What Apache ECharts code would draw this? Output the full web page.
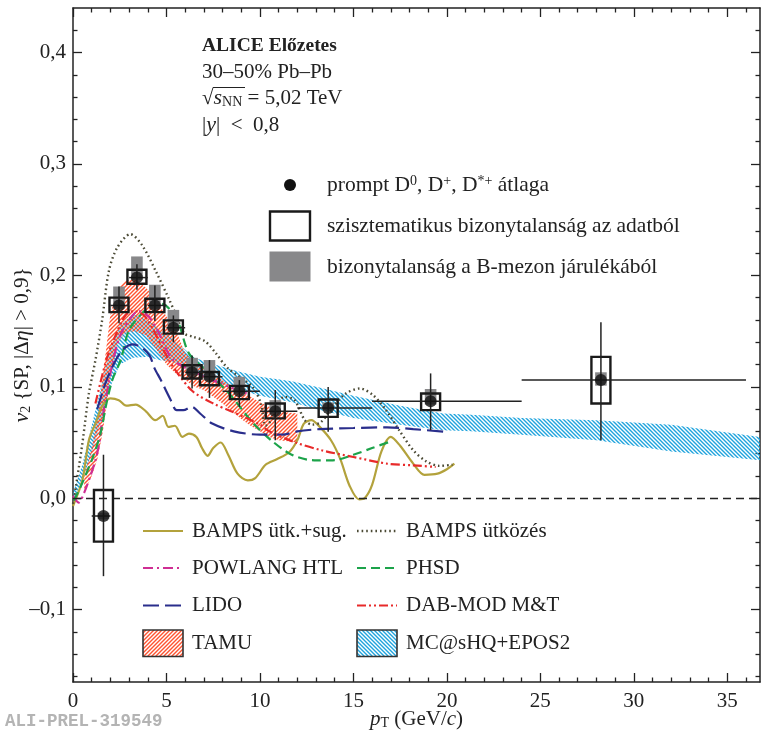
<!DOCTYPE html>
<html><head><meta charset="utf-8">
<script src="https://cdn.jsdelivr.net/npm/echarts@6/dist/echarts.min.js"></script>
<style>html,body{margin:0;padding:0;background:#fff}#c{width:761px;height:739px}</style>
</head><body><div id="c"></div>
<script>
// ---------------- data ----------------
const ptX    = [1.63, 2.46, 3.42, 4.38, 5.37, 6.37, 7.3, 8.9, 10.82, 13.65, 19.13, 28.24];
const ptY    = [-0.016, 0.173, 0.198, 0.173, 0.153, 0.113, 0.109, 0.096, 0.078, 0.081, 0.087, 0.106];
const statLo = [-0.070, 0.157, 0.187, 0.159, 0.140, 0.0985, 0.090, 0.082, 0.052, 0.0596, 0.0611, 0.052];
const statHi = [0.039, 0.190, 0.210, 0.191, 0.164, 0.128, 0.124, 0.106, 0.097, 0.0999, 0.112, 0.158];
const binLo  = [1, 2, 3, 4, 5, 6, 7, 8, 10, 12, 16, 24];
const binHi  = [2, 3, 4, 5, 6, 7, 8, 10, 12, 16, 24, 36];
const systLo = [-0.039, 0.167, 0.1925, 0.167, 0.1477, 0.1074, 0.1014, 0.0889, 0.0716, 0.073, 0.079, 0.085];
const systHi = [0.0074, 0.180, 0.205, 0.179, 0.1596, 0.1193, 0.1133, 0.1008, 0.085, 0.0886, 0.094, 0.1268];
const bfdLo  = [-0.019, 0.170, 0.196, 0.170, 0.150, 0.111, 0.106, 0.094, 0.076, 0.079, 0.084, 0.101];
const bfdHi  = [-0.013, 0.190, 0.217, 0.1916, 0.169, 0.126, 0.124, 0.109, 0.088, 0.086, 0.098, 0.113];

const bampsRad = [[0,-0.007],[0.5,0.016],[0.85,0.052],[1.2,0.067],[1.57,0.083],[2.0,0.0895],[2.45,0.088],[2.85,0.083],[3.35,0.084],[3.9,0.078],[4.4,0.07],[4.8,0.074],[5.1,0.064],[5.45,0.065],[5.85,0.055],[6.2,0.058],[6.6,0.055],[6.9,0.045],[7.2,0.038],[7.5,0.045],[7.9,0.05],[8.3,0.039],[8.8,0.022],[9.35,0.016],[9.75,0.018],[10.3,0.03],[10.9,0.035],[11.55,0.041],[12.0,0.052],[12.35,0.067],[12.75,0.07],[13.2,0.064],[13.8,0.052],[14.3,0.035],[14.8,0.011],[15.3,-0.001],[15.6,0.0],[16.0,0.012],[16.5,0.042],[17.0,0.055],[17.5,0.047],[18.2,0.031],[18.8,0.021],[19.5,0.022],[20.0,0.026],[20.4,0.031]];
const bampsColl = [[0,-0.005],[0.15,0.01],[0.5,0.049],[0.85,0.094],[1.2,0.124],[1.56,0.16],[1.92,0.204],[2.37,0.225],[3.07,0.237],[3.7,0.227],[4.45,0.203],[5.1,0.18],[5.5,0.165],[5.95,0.148],[6.4,0.145],[7.05,0.141],[7.65,0.13],[8.2,0.118],[8.9,0.109],[9.6,0.1],[10.05,0.085],[10.3,0.065],[10.7,0.072],[11.3,0.091],[11.85,0.088],[12.4,0.07],[12.8,0.066],[13.25,0.068],[13.9,0.082],[14.6,0.094],[15.35,0.0985],[16.05,0.0925],[16.75,0.079],[17.45,0.061],[18.2,0.043],[18.9,0.033],[19.6,0.029],[20.3,0.03]];
const powlang = [[0,0.002],[0.3,-0.004],[0.6,0.005],[0.95,0.021],[1.2,0.034],[1.4,0.049],[1.56,0.07],[1.75,0.088],[2.1,0.12],[2.5,0.145],[3.0,0.16],[3.5,0.168],[4.05,0.163],[4.6,0.148],[5.1,0.13],[5.5,0.122],[6.3,0.115],[7.3,0.107],[8.5,0.099],[9.3,0.094]];
const phsd = [[0.05,-0.002],[0.4,0.01],[1.0,0.034],[1.47,0.058],[1.75,0.082],[2.1,0.106],[2.55,0.124],[3.0,0.151],[3.7,0.166],[4.25,0.173],[4.75,0.1745],[5.15,0.17],[5.65,0.157],[6.2,0.13],[7.1,0.115],[8.4,0.093],[9.6,0.068],[10.6,0.052],[11.7,0.039],[12.9,0.034],[13.9,0.034],[15.0,0.039],[16.0,0.045],[17.0,0.051]];
const lido = [[1.3,0.08],[1.75,0.104],[2.2,0.121],[2.65,0.133],[3.2,0.138],[3.7,0.135],[4.1,0.128],[4.35,0.117],[4.7,0.106],[5.2,0.089],[5.55,0.079],[5.9,0.079],[6.35,0.082],[6.8,0.076],[7.45,0.067],[8.6,0.06],[10.0,0.057],[11.2,0.057],[12.0,0.06],[13.2,0.062],[15.0,0.063],[16.8,0.0636],[18.2,0.062],[19.9,0.0596]];
const dabmod = [[1.2,0.085],[1.8,0.125],[2.35,0.149],[2.8,0.164],[3.25,0.168],[3.8,0.164],[4.3,0.151],[4.75,0.136],[5.2,0.122],[5.6,0.112],[6.4,0.096],[7.5,0.085],[8.6,0.077],[10.0,0.066],[10.5,0.06],[11.9,0.05],[13.3,0.043],[15.0,0.037],[16.8,0.031],[18.2,0.0295],[19.4,0.028]];

const tamuX  = [0.6, 1.0, 1.3, 1.6, 2.0, 2.4, 2.8, 3.3, 3.9, 4.4, 5.0, 5.5, 6.0, 6.5, 7.0, 7.5, 8.0, 8.5, 9.0, 9.5, 10, 10.5, 11, 11.5, 12];
const tamuHi = [0.02, 0.045, 0.07, 0.11, 0.165, 0.189, 0.195, 0.197, 0.189, 0.18, 0.163, 0.151, 0.13, 0.122, 0.118, 0.112, 0.106, 0.1, 0.095, 0.091, 0.086, 0.082, 0.079, 0.077, 0.076];
const tamuLo = [0.005, 0.02, 0.035, 0.06, 0.11, 0.14, 0.148, 0.15, 0.146, 0.135, 0.12, 0.112, 0.106, 0.1, 0.097, 0.091, 0.085, 0.078, 0.071, 0.065, 0.06, 0.055, 0.052, 0.051, 0.05];
const mcX  = [0, 0.5, 1.0, 1.5, 2.0, 2.5, 3.2, 4.0, 4.6, 5.4, 6.5, 7.4, 8.8, 10, 11.7, 13, 15, 17.5, 19.8, 21.3, 24, 28, 32, 36.75];
const mcHi = [0.005, 0.03, 0.065, 0.1, 0.135, 0.155, 0.165, 0.16, 0.152, 0.142, 0.126, 0.121, 0.114, 0.109, 0.105, 0.1, 0.092, 0.083, 0.076, 0.075, 0.072, 0.07, 0.066, 0.055];
const mcLo = [-0.002, 0.015, 0.04, 0.07, 0.1, 0.12, 0.126, 0.127, 0.124, 0.122, 0.112, 0.106, 0.098, 0.092, 0.086, 0.08, 0.072, 0.066, 0.061, 0.06, 0.057, 0.052, 0.042, 0.034];

const xMajor = [0, 5, 10, 15, 20, 25, 30, 35];
const xMinor = [1,2,3,4,6,7,8,9,11,12,13,14,16,17,18,19,21,22,23,24,26,27,28,29,31,32,33,34,36];
const yMajor = [-0.1, 0, 0.1, 0.2, 0.3, 0.4];
const yMinor = [-0.16,-0.14,-0.12,-0.08,-0.06,-0.04,-0.02,0.02,0.04,0.06,0.08,0.12,0.14,0.16,0.18,0.22,0.24,0.26,0.28,0.32,0.34,0.36,0.38,0.42];

const legendLeft  = ['BAMPS ütk.+sug.', 'POWLANG HTL', 'LIDO', 'TAMU'];
const legendRight = ['BAMPS ütközés', 'PHSD', 'DAB-MOD M&T', 'MC@sHQ+EPOS2'];

// ---------------- styles ----------------
const FONT = 'Liberation Serif';
const TXT = '#222';
const C = {rad:'#b3a23c', coll:'#4b4a35', pow:'#cf2e93', phsd:'#1ca34a', lido:'#2a2e8c', dab:'#e82a2a', tamu:'#ff5330', mc:'#1fa3dd', grey:'#88888a'};
const DASH = {rad:null, coll:[1.6,3], pow:[10,4,2,4], phsd:[9,5], lido:[16,6], dab:[9,3,2,3,2,3]};

function hatch(color, dir){
  const cv = document.createElement('canvas'); cv.width = 4; cv.height = 4;
  const g = cv.getContext('2d'); g.strokeStyle = color; g.lineWidth = 1.4;
  g.beginPath();
  if (dir === '/') { g.moveTo(0,4); g.lineTo(4,0); g.moveTo(-1,1); g.lineTo(1,-1); g.moveTo(3,5); g.lineTo(5,3); }
  else { g.moveTo(0,0); g.lineTo(4,4); g.moveTo(-1,3); g.lineTo(1,5); g.moveTo(3,-1); g.lineTo(5,1); }
  g.stroke();
  return {image: cv, repeat: 'repeat'};
}
const patTamu = hatch(C.tamu, '/');
const patMc = hatch(C.mc, '\\');

function bandSeries(name, xs, lo, hi, pat){
  return {
    type:'custom', name, silent:true, z:1,
    data: xs.map((x,i)=>[x, lo[i], hi[i]]),
    encode:{x:0, y:[1,2]},
    renderItem(params, api){
      if (params.dataIndex !== 0) return null;
      const pts = [];
      for (let i=0;i<xs.length;i++) pts.push(api.coord([xs[i], hi[i]]));
      for (let i=xs.length-1;i>=0;i--) pts.push(api.coord([xs[i], lo[i]]));
      return {type:'polygon', shape:{points:pts}, style:{fill:pat}};
    }
  };
}
function lineSeries(name, data, color, dash){
  return {type:'line', name, data, showSymbol:false, symbol:'none', smooth:0.3, z:3, silent:true,
    lineStyle:{color, width: dash && dash[0] < 2 ? 2.4 : 2.2, type: dash || 'solid'}};
}
const fmtY = v => (v < -1e-9 ? '–' : '') + Math.abs(v).toFixed(1).replace('.', ',');

const baseAxisLine = {show:true, onZero:false, lineStyle:{color:'#222', width:1.5}};
function xAx(pos, ticks, len, main){
  return {type:'value', min:0, max:36.75, position:pos, gridIndex:0,
    axisLine: main ? baseAxisLine : {show:false, onZero:false},
    axisTick:{show:true, inside:true, length:len, customValues:ticks, lineStyle:{color:'#222', width:1.3}},
    axisLabel: (main && pos==='bottom') ? {show:true, customValues:xMajor, margin:9, fontFamily:FONT, fontSize:21, color:TXT} : {show:false},
    splitLine:{show:false}, minorTick:{show:false}};
}
function yAx(pos, ticks, len, main){
  return {type:'value', min:-0.165, max:0.44, position:pos, gridIndex:0,
    axisLine: main ? baseAxisLine : {show:false, onZero:false},
    axisTick:{show:true, inside:true, length:len, customValues:ticks, lineStyle:{color:'#222', width:1.3}},
    axisLabel: (main && pos==='left') ? {show:true, customValues:yMajor, margin:7, fontFamily:FONT, fontSize:21, color:TXT, formatter:fmtY} : {show:false},
    splitLine:{show:false}, minorTick:{show:false}};
}
const xAxes = [xAx('bottom', xMajor, 9, true), xAx('bottom', xMinor, 4.5, false), xAx('top', xMajor, 9, true), xAx('top', xMinor, 4.5, false)];
Object.assign(xAxes[0], {name:'{i|p}{sub|T} (GeV/{i|c})', nameLocation:'middle', nameGap:27, nameMoveOverlap:false,
  nameTextStyle:{fontFamily:FONT, fontSize:21, color:TXT, rich:{i:{fontFamily:FONT, fontStyle:'italic', fontSize:21, color:TXT}, sub:{fontFamily:FONT, fontSize:14, color:TXT, verticalAlign:'bottom'}}}});
const yAxes = [yAx('left', yMajor, 9, true), yAx('left', yMinor, 4.5, false), yAx('right', yMajor, 9, true), yAx('right', yMinor, 4.5, false)];
Object.assign(yAxes[0], {name:'{i|v}{sub|2} {SP, |Δ{i|η}| > 0,9}', nameLocation:'middle', nameGap:40, nameRotate:90, nameMoveOverlap:false,
  nameTextStyle:{fontFamily:FONT, fontSize:21, color:TXT, rich:{i:{fontFamily:FONT, fontStyle:'italic', fontSize:22, color:TXT}, sub:{fontFamily:FONT, fontSize:14, color:TXT, verticalAlign:'bottom'}}}});

const ptRows = ptX.map((x,i)=>[x, ptY[i], statLo[i], statHi[i], binLo[i], binHi[i], systLo[i], systHi[i], bfdLo[i], bfdHi[i]]);

const series = [
  bandSeries('MC@sHQ+EPOS2', mcX, mcLo, mcHi, patMc),
  bandSeries('TAMU', tamuX, tamuLo, tamuHi, patTamu),
  lineSeries('BAMPS ütk.+sug.', bampsRad, C.rad, DASH.rad),
  lineSeries('BAMPS ütközés', bampsColl, C.coll, DASH.coll),
  lineSeries('POWLANG HTL', powlang, C.pow, DASH.pow),
  lineSeries('PHSD', phsd, C.phsd, DASH.phsd),
  lineSeries('LIDO', lido, C.lido, DASH.lido),
  lineSeries('DAB-MOD M&T', dabmod, C.dab, DASH.dab),
  { type:'custom', name:'bizonytalanság a B-mezon járulékából', z:4, silent:true, data: ptRows, encode:{x:0,y:1},
    renderItem(p, api){
      const a = api.coord([api.value(0), api.value(9)]), b = api.coord([api.value(0), api.value(8)]);
      return {type:'rect', shape:{x:a[0]-5.8, y:a[1], width:11.6, height:b[1]-a[1]}, style:{fill:C.grey}};
    }},
  { type:'custom', name:'szisztematikus bizonytalanság az adatból', z:5, silent:true, data: ptRows, encode:{x:0,y:1},
    renderItem(p, api){
      const a = api.coord([api.value(0), api.value(7)]), b = api.coord([api.value(0), api.value(6)]);
      return {type:'rect', shape:{x:a[0]-9.5, y:a[1], width:19, height:b[1]-a[1]}, style:{fill:'none', stroke:'#1a1a1a', lineWidth:2.4}};
    }},
  { type:'custom', name:'stat', z:6, silent:true, data: ptRows, encode:{x:0,y:1},
    renderItem(p, api){
      const t = api.coord([api.value(0), api.value(3)]), b = api.coord([api.value(0), api.value(2)]);
      const l = api.coord([api.value(4), api.value(1)]), r = api.coord([api.value(5), api.value(1)]);
      const st = {stroke:'#222', lineWidth:1.5};
      return {type:'group', children:[
        {type:'line', shape:{x1:t[0], y1:t[1], x2:b[0], y2:b[1]}, style:st},
        {type:'line', shape:{x1:l[0], y1:l[1], x2:r[0], y2:r[1]}, style:st}
      ]};
    }},
  { type:'scatter', name:'prompt D átlaga', z:7, silent:true, data: ptX.map((x,i)=>[x, ptY[i]]), symbol:'circle', symbolSize:12,
    itemStyle:{color:'#111'},
    markLine:{silent:true, symbol:'none', label:{show:false}, lineStyle:{color:'#222', type:[8,5], width:1.4}, data:[{yAxis:0}]}}
];

// ---------------- legend / annotations (graphic) ----------------
const txtStyle = (text, x, y, extra) => Object.assign({type:'text', x, y, z:100, style:Object.assign({text, fontFamily:FONT, fontSize:21, fill:TXT, verticalAlign:'middle', align:'left'}, extra||{})});
const rowY = [531, 568, 605.5, 643];
const gfx = [];
// top-left annotation
gfx.push(txtStyle('ALICE Előzetes', 202, 46, {fontWeight:'bold', fontSize:19.5}));
gfx.push(txtStyle('30–50% Pb–Pb', 202, 72, {fontSize:21}));
gfx.push(txtStyle('√{i|s}{sub|NN} = 5,02 TeV', 202, 98, {fontSize:21, rich:{i:{fontFamily:FONT, fontStyle:'italic', fontSize:22, fill:TXT}, sub:{fontFamily:FONT, fontSize:14, fill:TXT, verticalAlign:'bottom'}}}));
gfx.push({type:'line', z:100, shape:{x1:213, y1:87.5, x2:245, y2:87.5}, style:{stroke:TXT, lineWidth:1}});
gfx.push(txtStyle('|{i|y}|  <  0,8', 202, 125, {fontSize:21, rich:{i:{fontFamily:FONT, fontStyle:'italic', fontSize:22, fill:TXT}}}));
// data legend
gfx.push({type:'circle', z:100, shape:{cx:290, cy:185, r:6}, style:{fill:'#111'}});
gfx.push(txtStyle('prompt D{sup|0}, D{sup|+}, D{sup|*+} átlaga', 327, 185, {fontSize:21.5, rich:{sup:{fontFamily:FONT, fontSize:14, fill:TXT, verticalAlign:'top'}}}));
gfx.push({type:'rect', z:100, shape:{x:270, y:211.5, width:40, height:29}, style:{fill:'#fff', stroke:'#1a1a1a', lineWidth:2.4}});
gfx.push(txtStyle('szisztematikus bizonytalanság az adatból', 327, 226, {fontSize:21.5}));
gfx.push({type:'rect', z:100, shape:{x:269.5, y:251.5, width:41, height:30}, style:{fill:C.grey}});
gfx.push(txtStyle('bizonytalanság a B-mezon járulékából', 327, 267, {fontSize:21.5}));
// model legend
const lineIcon = (x, y, color, dash, w) => ({type:'line', z:100, shape:{x1:x, y1:y, x2:x+40, y2:y}, style:{stroke:color, lineWidth:w||2.2, lineDash:dash||null}});
gfx.push(lineIcon(143, rowY[0], C.rad, null));
gfx.push(lineIcon(143, rowY[1], C.pow, DASH.pow));
gfx.push(lineIcon(143, rowY[2], C.lido, DASH.lido));
gfx.push({type:'rect', z:100, shape:{x:143, y:630, width:40, height:26.5}, style:{fill:patTamu, stroke:'#333', lineWidth:1.6}});
gfx.push(lineIcon(357, rowY[0], C.coll, DASH.coll, 2.4));
gfx.push(lineIcon(357, rowY[1], C.phsd, DASH.phsd));
gfx.push(lineIcon(357, rowY[2], C.dab, DASH.dab));
gfx.push({type:'rect', z:100, shape:{x:357, y:630, width:40, height:26.5}, style:{fill:patMc, stroke:'#333', lineWidth:1.6}});
legendLeft.forEach((t,i)=>gfx.push(txtStyle(t, 192, rowY[i])));
legendRight.forEach((t,i)=>gfx.push(txtStyle(t, 406, rowY[i])));
// watermark
gfx.push(txtStyle('ALI-PREL-319549', 5, 722, {fontFamily:'Liberation Mono', fontWeight:'bold', fontSize:17.5, fill:'#b4b4b4'}));

const chart = echarts.init(document.getElementById('c'), null, {renderer:'canvas'});
chart.setOption({
  animation:false,
  backgroundColor:'#fff',
  grid:{left:73, right:1, top:8, bottom:57, containLabel:false, outerBoundsMode:'none'},
  xAxis: xAxes,
  yAxis: yAxes,
  series,
  graphic: gfx
});
</script></body></html>
